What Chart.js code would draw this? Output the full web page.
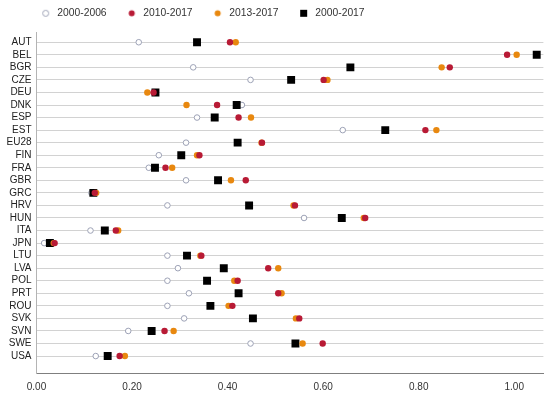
<!DOCTYPE html>
<html>
<head>
<meta charset="utf-8">
<script src="https://cdn.jsdelivr.net/npm/chart.js@4.4.0/dist/chart.umd.min.js"></script>
<style>
  html, body { margin: 0; padding: 0; background: #fff; }
  #chart { display: block; }
</style>
</head>
<body>
<canvas id="chart" width="549" height="396"></canvas>
<script>
const countries = ["AUT", "BEL", "BGR", "CZE", "DEU", "DNK", "ESP", "EST", "EU28", "FIN", "FRA", "GBR", "GRC",
  "HRV", "HUN", "ITA", "JPN", "LTU", "LVA", "POL", "PRT", "ROU", "SVK", "SVN", "SWE", "USA"];

const p2000_2006 = [0.214, null, 0.328, 0.448, 0.250, 0.430, 0.336, 0.641, 0.313, 0.256, 0.235, 0.313, 0.115,
  0.274, 0.560, 0.113, 0.016, 0.274, 0.296, 0.274, 0.319, 0.274, 0.309, 0.192, 0.448, 0.124];
const p2010_2017 = [0.405, 0.985, 0.865, 0.601, 0.245, 0.378, 0.423, 0.814, 0.472, 0.341, 0.270, 0.438, 0.122,
  0.541, 0.688, 0.166, 0.038, 0.345, 0.485, 0.421, 0.506, 0.410, 0.550, 0.268, 0.599, 0.174];
const p2013_2017 = [0.417, 1.005, 0.848, 0.609, 0.232, 0.314, 0.449, 0.837, 0.471, 0.336, 0.284, 0.407, 0.125,
  0.538, 0.685, 0.171, 0.036, 0.343, 0.506, 0.414, 0.513, 0.402, 0.543, 0.287, 0.557, 0.185];
const p2000_2017 = [0.336, 1.047, 0.657, 0.533, 0.249, 0.419, 0.373, 0.730, 0.421, 0.303, 0.248, 0.380, 0.119,
  0.445, 0.639, 0.143, 0.028, 0.315, 0.392, 0.357, 0.423, 0.364, 0.453, 0.241, 0.542, 0.149];

const xTicks = [0, 0.2, 0.4, 0.6, 0.8, 1.0];

const FONT = "'Liberation Sans', Arial, sans-serif";
const RED = "#b81a35";
const ORANGE = "#e8880f";
const HOLLOW = "#9da2b6";

function toPoints(vals) {
  return vals.map((v, i) => (v === null ? null : { x: v, y: i })).filter(p => p);
}

// little canvases so the legend symbols keep their own sizes
function icon(draw) {
  const c = document.createElement("canvas");
  c.width = 9; c.height = 9;
  draw(c.getContext("2d"));
  return c;
}
const dot = (fill, stroke) => icon(ctx => {
  ctx.beginPath();
  ctx.arc(4.5, 4.5, 3, 0, Math.PI * 2);
  ctx.fillStyle = fill;
  ctx.fill();
  if (stroke) { ctx.lineWidth = 1; ctx.strokeStyle = stroke; ctx.stroke(); }
});
const square = icon(ctx => { ctx.fillStyle = "#000"; ctx.fillRect(1, 1, 7, 7); });

// index 0 is painted last, so red ends up on top and the hollow rings at the bottom
const datasets = [
  { label: "2010-2017", data: toPoints(p2010_2017), pointStyle: "circle", pointRadius: 3.2,
    backgroundColor: RED, borderColor: RED, borderWidth: 0 },
  { label: "2013-2017", data: toPoints(p2013_2017), pointStyle: "circle", pointRadius: 3.2,
    backgroundColor: ORANGE, borderColor: ORANGE, borderWidth: 0 },
  { label: "2000-2017", data: toPoints(p2000_2017), pointStyle: "rect", pointRadius: 5.6,
    backgroundColor: "#000", borderColor: "#000", borderWidth: 0 },
  { label: "2000-2006", data: toPoints(p2000_2006), pointStyle: "circle", pointRadius: 2.8,
    backgroundColor: "#fff", borderColor: HOLLOW, borderWidth: 1 }
];
datasets.forEach(d => { d.pointHoverRadius = d.pointRadius; });

const legendIcons = [dot(RED), dot(ORANGE), square, dot("#fff", HOLLOW)];
const legendRank = [1, 2, 3, 0];

// extra room under the legend, and push it right so it starts over the plot
const legendPlacement = {
  id: "legendPlacement",
  beforeLayout(chart) {
    const lg = chart.legend;
    if (lg && !lg._spaced) {
      const fit = lg.fit;
      lg.fit = function () { fit.call(this); this.height += 4.5; };
      lg._spaced = true;
    }
  },
  afterLayout(chart) {
    const lg = chart.legend;
    if (lg) { lg.left += 20.6; lg.right += 20.6; }
  }
};

new Chart(document.getElementById("chart"), {
  type: "scatter",
  data: { datasets },
  plugins: [legendPlacement],
  options: {
    responsive: false,
    animation: false,
    devicePixelRatio: 1,
    layout: { padding: { top: -10.45, left: 0, right: 0, bottom: 0 } },
    plugins: {
      tooltip: { enabled: false },
      legend: {
        position: "top",
        align: "start",
        labels: {
          usePointStyle: true,
          pointStyleWidth: 13,
          padding: 18.6,
          color: "#333",
          font: { family: FONT, size: 10.3 },
          generateLabels(chart) {
            const items = Chart.defaults.plugins.legend.labels.generateLabels(chart);
            items.forEach(it => { it.pointStyle = legendIcons[it.datasetIndex]; });
            return items;
          },
          sort: (a, b) => legendRank[a.datasetIndex] - legendRank[b.datasetIndex]
        }
      }
    },
    scales: {
      x: {
        type: "linear",
        min: 0,
        max: 1.061,
        grid: { display: false, drawTicks: false },
        border: { display: true, color: "#7f7f7f", width: 1 },
        afterBuildTicks: scale => { scale.ticks = xTicks.map(v => ({ value: v })); },
        afterFit: scale => { scale.height = 23; },
        ticks: {
          padding: 8,
          color: "#333",
          font: { family: FONT, size: 10 },
          callback: v => v.toFixed(2)
        }
      },
      y: {
        type: "linear",
        reverse: true,
        min: -0.74,
        max: 26.35,
        grid: { color: "#d2d2d2", lineWidth: 1, drawTicks: false },
        border: { display: true, color: "#b4b4b4", width: 1 },
        afterBuildTicks: scale => { scale.ticks = countries.map((c, i) => ({ value: i })); },
        afterFit: scale => { scale.width = 36.5; },
        ticks: {
          autoSkip: false,
          padding: 5,
          color: "#222",
          font: { family: FONT, size: 10 },
          callback: v => countries[v]
        }
      }
    }
  }
});
</script>
</body>
</html>
